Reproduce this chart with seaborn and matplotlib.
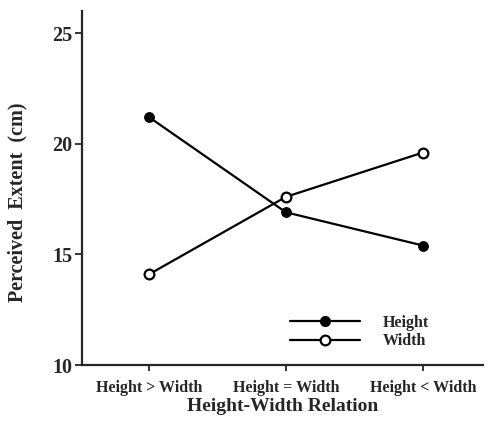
import pandas as pd
import matplotlib
matplotlib.use('Agg')
import matplotlib.pyplot as plt
from matplotlib.lines import Line2D
import seaborn as sns

relations = ['Height > Width', 'Height = Width', 'Height < Width']
height_vals = [21.2, 16.9, 15.4]
width_vals = [14.1, 17.6, 19.6]

sns.set_style('ticks')
plt.rcParams['font.family'] = ['Liberation Serif', 'DejaVu Serif']
plt.rcParams['font.weight'] = 'bold'
plt.rcParams['axes.labelweight'] = 'bold'

df = pd.DataFrame({
    'Relation': relations * 2,
    'Extent': height_vals + width_vals,
    'Dimension': ['Height'] * 3 + ['Width'] * 3,
})

fig = plt.figure(figsize=(4.88, 4.21), dpi=100)
ax = fig.add_axes([0.168, 0.133, 0.822, 0.841])

sns.lineplot(data=df[df['Dimension'] == 'Height'], x='Relation', y='Extent',
             color='black', lw=1.6, marker='o', ms=7, mfc='black', mec='black',
             sort=False, ax=ax)
sns.lineplot(data=df[df['Dimension'] == 'Width'], x='Relation', y='Extent',
             color='black', lw=1.6, marker='o', ms=7, mfc='white', mec='black',
             mew=1.6, sort=False, ax=ax)

ax.set_ylim(10, 26)
ax.set_xlim(-0.49, 2.44)
ax.set_yticks([10, 15, 20, 25])
ax.tick_params(axis='y', labelsize=14.5, length=5, width=1.3, direction='out', pad=2)
ax.tick_params(axis='x', labelsize=11.5, length=4, width=1.3, direction='out', pad=7)
for s in ['top', 'right']:
    ax.spines[s].set_visible(False)
for s in ['left', 'bottom']:
    ax.spines[s].set_linewidth(1.6)

ax.set_xlabel('Height-Width Relation', fontsize=14, labelpad=1)
ax.set_ylabel('Perceived  Extent  (cm)', fontsize=14.5)
ax.yaxis.set_label_coords(-0.135, 0.46)

handles = [
    Line2D([], [], color='black', lw=1.6, marker='o', ms=7, mfc='black', mec='black'),
    Line2D([], [], color='black', lw=1.6, marker='o', ms=7, mfc='white', mec='black', mew=1.6),
]
ax.legend(handles, ['Height', 'Width'], loc='center left', bbox_to_anchor=(0.519, 0.093),
          frameon=False, fontsize=11.5, handlelength=4.4, handletextpad=1.4,
          borderpad=0, borderaxespad=0, labelspacing=0.15)

fig.savefig('out.png', dpi=100)
